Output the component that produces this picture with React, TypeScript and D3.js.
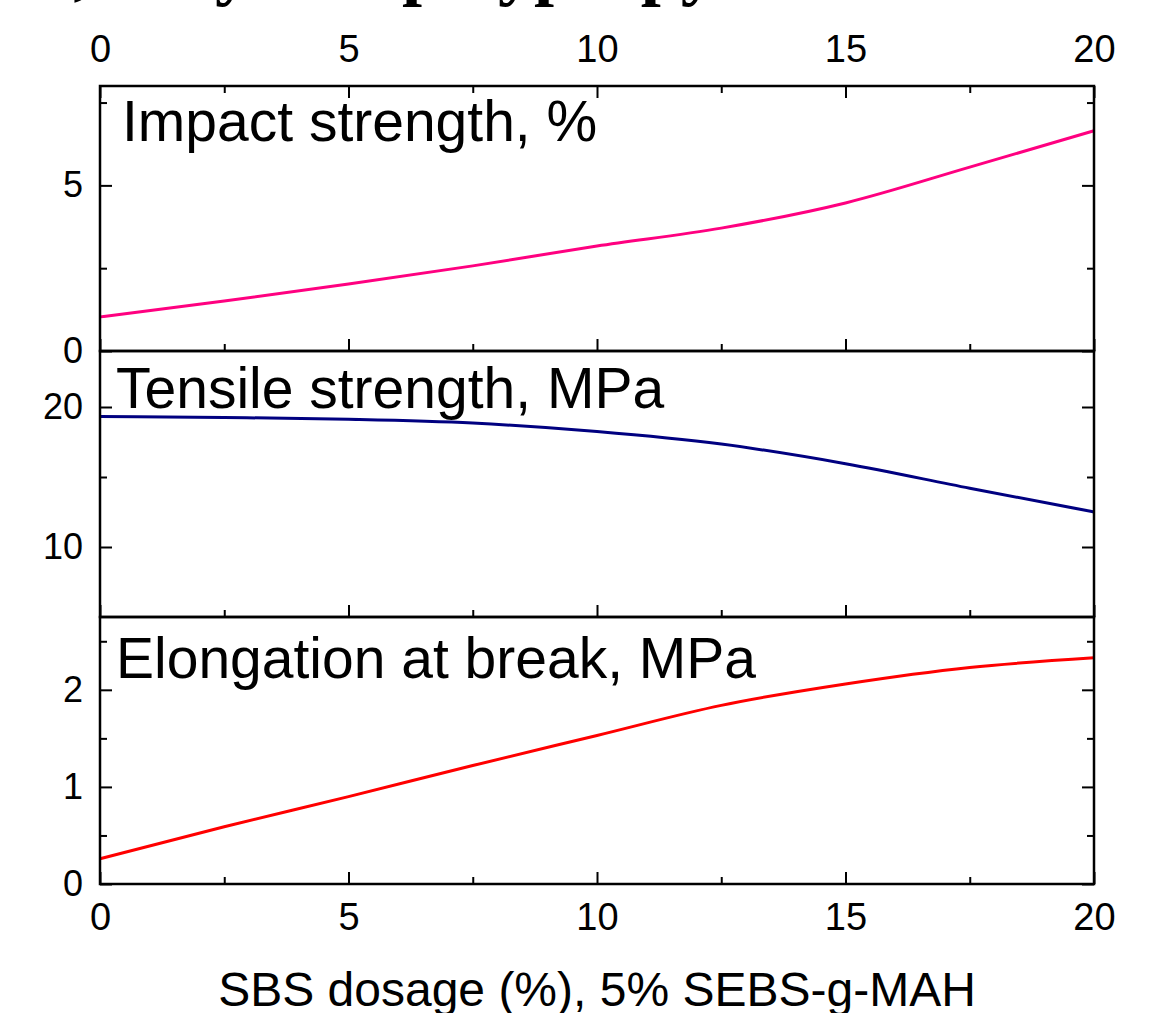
import React, { useRef, useEffect } from "react";
import * as d3 from "d3";

// SBS dosage (%)
const dosage = [0, 2.5, 5, 7.5, 10, 12.5, 15, 17.5, 20];
const impact = [1.03, 1.51, 2.02, 2.57, 3.17, 3.71, 4.47, 5.55, 6.65];
const tensile = [19.32, 19.25, 19.12, 18.85, 18.25, 17.35, 15.95, 14.2, 12.5];
const elongation = [0.26, 0.59, 0.9, 1.22, 1.53, 1.84, 2.06, 2.23, 2.33];

const xMajor = [0, 5, 10, 15, 20];
const xMinor = [2.5, 7.5, 12.5, 17.5];

const titles = ["Impact strength, %", "Tensile strength, MPa", "Elongation at break, MPa"];
const colors = ["#ff0080", "#000080", "#ff0000"];

const App = () => {
  const container = useRef(null);

  const width = 1165;
  const height = 1013;
  const left = 100;
  const right = 1094;
  const font = "'Liberation Sans', Arial, sans-serif";
  const serif = "'Liberation Serif', 'Times New Roman', serif";

  useEffect(() => {
    const svg = d3.select(container.current);
    svg.selectAll("*").remove();

    const x = d3.scaleLinear().domain([0, 20]).range([left, right]);

    // panels from top to bottom
    const panels = [
      { values: impact, domain: [0, 8], top: 86, bottom: 351, major: [0, 5], minor: [2.5, 7.5], ty: 141, tx: 122 },
      { values: tensile, domain: [5, 24], top: 351, bottom: 617, major: [10, 20], minor: [15], ty: 408, tx: 116 },
      { values: elongation, domain: [0, 2.75], top: 617, bottom: 884, major: [0, 1, 2], minor: [0.5, 1.5, 2.5], ty: 678, tx: 116 },
    ];

    // caption above the chart, cut off by the top edge
    svg
      .append("text")
      .attr("x", 251)
      .attr("y", -8)
      .attr("text-anchor", "end")
      .style("font-family", serif)
      .style("font-weight", "bold")
      .style("font-size", "72px")
      .text("b, Tidy");
    svg
      .append("text")
      .attr("x", 402)
      .attr("y", -8)
      .style("font-family", serif)
      .style("font-weight", "bold")
      .style("font-size", "72px")
      .text("polypropylene");

    const styleAxis = (g, size) => {
      g.select(".domain").remove();
      g.selectAll("line").attr("stroke", "#000").attr("stroke-width", 2);
      g.selectAll("text").style("font-family", font).style("font-size", size + "px").attr("fill", "#000");
    };

    const none = () => "";
    const plain = (d) => String(d);

    panels.forEach((p, i) => {
      const y = d3.scaleLinear().domain(p.domain).range([p.bottom, p.top]);

      // line
      const line = d3
        .line()
        .x((d) => x(d[0]))
        .y((d) => y(d[1]))
        .curve(d3.curveMonotoneX);
      svg
        .append("path")
        .datum(dosage.map((d, j) => [d, p.values[j]]))
        .attr("d", line)
        .attr("fill", "none")
        .attr("stroke", colors[i])
        .attr("stroke-width", 3);

      // left axis
      svg
        .append("g")
        .attr("transform", `translate(${left},0)`)
        .call(d3.axisLeft(y).tickValues(p.major).tickSize(-12).tickPadding(17).tickFormat(plain))
        .call(styleAxis, 36);
      svg
        .append("g")
        .attr("transform", `translate(${left},0)`)
        .call(d3.axisLeft(y).tickValues(p.minor).tickSize(-7).tickFormat(none))
        .call(styleAxis, 36);

      // right axis
      svg
        .append("g")
        .attr("transform", `translate(${right},0)`)
        .call(d3.axisRight(y).tickValues(p.major).tickSize(-12).tickFormat(none))
        .call(styleAxis, 36);
      svg
        .append("g")
        .attr("transform", `translate(${right},0)`)
        .call(d3.axisRight(y).tickValues(p.minor).tickSize(-7).tickFormat(none))
        .call(styleAxis, 36);

      // bottom ticks (inward)
      const last = i === panels.length - 1;
      svg
        .append("g")
        .attr("transform", `translate(0,${p.bottom})`)
        .call(
          d3
            .axisBottom(x)
            .tickValues(xMajor)
            .tickSize(-12)
            .tickPadding(19)
            .tickFormat(last ? plain : none)
        )
        .call(styleAxis, 38);
      svg
        .append("g")
        .attr("transform", `translate(0,${p.bottom})`)
        .call(d3.axisBottom(x).tickValues(xMinor).tickSize(-7).tickFormat(none))
        .call(styleAxis, 38);

      if (i === 0) {
        svg
          .append("g")
          .attr("transform", `translate(0,${p.top})`)
          .call(d3.axisTop(x).tickValues(xMajor).tickSize(-12).tickPadding(24).tickFormat(plain))
          .call(styleAxis, 38);
        svg
          .append("g")
          .attr("transform", `translate(0,${p.top})`)
          .call(d3.axisTop(x).tickValues(xMinor).tickSize(-7).tickFormat(none))
          .call(styleAxis, 38);
      }

      // frame
      svg
        .append("rect")
        .attr("x", left)
        .attr("y", p.top)
        .attr("width", right - left)
        .attr("height", p.bottom - p.top)
        .attr("fill", "none")
        .attr("stroke", "#000")
        .attr("stroke-width", 2.5);

      // panel title
      svg
        .append("text")
        .attr("x", p.tx)
        .attr("y", p.ty)
        .style("font-family", font)
        .style("font-size", "57px")
        .attr("fill", "#000")
        .text(titles[i]);
    });

    // x axis title
    svg
      .append("text")
      .attr("x", (left + right) / 2)
      .attr("y", 1006)
      .attr("text-anchor", "middle")
      .style("font-family", font)
      .style("font-size", "48px")
      .attr("fill", "#000")
      .text("SBS dosage (%), 5% SEBS-g-MAH");
  }, []);

  return (
    <svg
      ref={container}
      width={width}
      height={height}
      style={{ position: "absolute", left: 0, top: 0, background: "#fff" }}
    />
  );
};

export default App;
